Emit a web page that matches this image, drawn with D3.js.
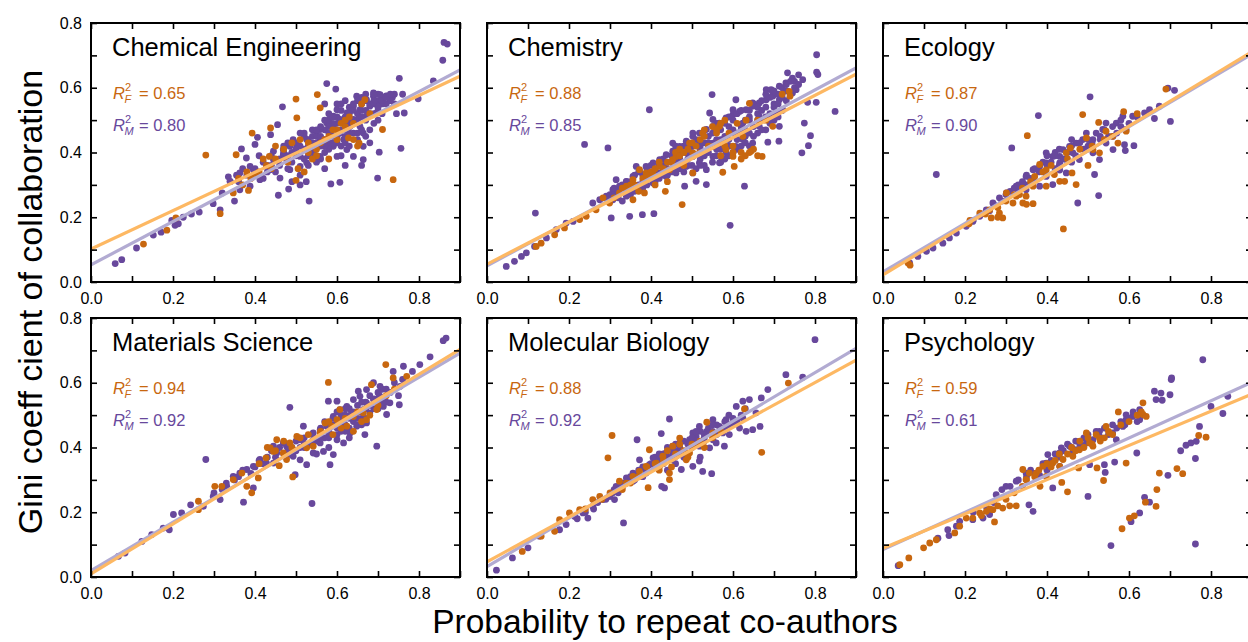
<!DOCTYPE html>
<html>
<head>
<meta charset="utf-8">
<script src="https://cdn.jsdelivr.net/npm/d3@7"></script>
<style>
body { margin: 0; background: #fff; }
text { font-family: "Liberation Sans", Arial, Helvetica, sans-serif; }
</style>
</head>
<body>
<svg id="chart" width="1248" height="642"></svg>
<script>
// panel names and fit summaries
var fields = ["Chemical Engineering", "Chemistry", "Ecology", "Materials Science", "Molecular Biology", "Psychology"];
var r2F = ["0.65", "0.88", "0.87", "0.94", "0.88", "0.59"];
var r2M = ["0.80", "0.85", "0.90", "0.92", "0.92", "0.61"];
// [intercept, slope] of the fitted lines
var fitF = [[0.102, 0.593], [0.055, 0.652], [0.022, 0.766], [0.010, 0.770], [0.047, 0.692], [0.089, 0.529]];
var fitM = [[0.053, 0.669], [0.050, 0.679], [0.031, 0.748], [0.020, 0.746], [0.032, 0.749], [0.085, 0.574]];
var xTicks = [0, 0.1, 0.2, 0.3, 0.4, 0.5, 0.6, 0.7, 0.8, 0.9];
var yTicks = [0, 0.1, 0.2, 0.3, 0.4, 0.5, 0.6, 0.7, 0.8];

// points: [probability to repeat co-authors, gini coefficient]
var chemEngM = [[0.059,0.057],[0.075,0.069],[0.111,0.105],[0.152,0.145],[0.171,0.154],[0.197,0.19],[0.205,0.175],[0.213,0.18],[0.225,0.2],[0.245,0.21],[0.264,0.216],[0.298,0.242],[0.315,0.223],[0.32,0.275],[0.35,0.25],[0.34,0.31],[0.335,0.325],[0.355,0.33],[0.367,0.411],[0.379,0.383],[0.40,0.425],[0.406,0.447],[0.438,0.455],[0.455,0.486],[0.467,0.541],[0.457,0.268],[0.482,0.287],[0.532,0.25],[0.51,0.30],[0.525,0.31],[0.575,0.613],[0.597,0.596],[0.585,0.303],[0.607,0.308],[0.699,0.321],[0.703,0.401],[0.756,0.413],[0.752,0.629],[0.764,0.522],[0.745,0.52],[0.835,0.621],[0.798,0.566],[0.858,0.685],[0.861,0.74],[0.869,0.735],[0.76,0.58],[0.735,0.57],[0.72,0.575],[0.74,0.55],
  [0.339,0.311],[0.363,0.337],[0.396,0.347],[0.428,0.357],[0.445,0.378],[0.469,0.393],[0.485,0.419],[0.493,0.44],[0.51,0.388],[0.526,0.368],[0.542,0.399],[0.559,0.44],[0.559,0.471],[0.575,0.491],[0.591,0.481],[0.607,0.502],[0.624,0.522],[0.64,0.543],[0.656,0.532],[0.672,0.563],[0.689,0.574],[0.705,0.579],[0.721,0.574],[0.672,0.512],[0.656,0.481],[0.664,0.419],[0.664,0.378],[0.64,0.388],[0.616,0.44],[0.591,0.419],[0.6,0.388],[0.559,0.388],[0.51,0.357],[0.485,0.347],[0.461,0.321],[0.437,0.347],[0.412,0.316],[0.388,0.296],[0.363,0.285],[0.388,0.357],[0.469,0.409],[0.526,0.44],[0.55,0.46],[0.583,0.46],[0.607,0.46],[0.632,0.481],[0.64,0.502],[0.591,0.512],[0.567,0.43],[0.542,0.419],[0.68,0.543],[0.697,0.522],[0.713,0.563],[0.729,0.574],[0.632,0.532],[0.648,0.574],[0.689,0.584],[0.624,0.409],[0.68,0.43],[0.502,0.419],[0.445,0.404],[0.477,0.378],[0.664,0.46],[0.6,0.532],
  [0.5,0.43],[0.52,0.45],[0.54,0.45],[0.57,0.47],[0.58,0.5],[0.6,0.49],[0.62,0.49],[0.63,0.5],[0.65,0.52],[0.66,0.55],[0.69,0.55],[0.7,0.56],[0.71,0.55],[0.62,0.47],[0.58,0.43],[0.55,0.43],[0.53,0.42],[0.49,0.40],[0.47,0.42],[0.57,0.40],[0.61,0.42],[0.65,0.44],[0.67,0.50],[0.70,0.58],[0.74,0.58],[0.69,0.49],[0.62,0.36],[0.66,0.36],[0.57,0.35],[0.49,0.31],
  [0.38,0.33],[0.40,0.35],[0.42,0.37],[0.43,0.34],[0.44,0.39],[0.46,0.36],[0.47,0.40],[0.48,0.43],[0.49,0.37],[0.50,0.39],[0.51,0.42],[0.52,0.38],[0.52,0.46],[0.53,0.44],[0.54,0.41],[0.54,0.47],[0.55,0.45],[0.56,0.42],[0.56,0.48],[0.57,0.44],[0.57,0.50],[0.58,0.46],[0.58,0.52],[0.59,0.45],[0.59,0.49],[0.60,0.43],[0.60,0.51],[0.61,0.47],[0.61,0.53],[0.62,0.45],[0.62,0.51],[0.63,0.48],[0.63,0.54],[0.64,0.46],[0.64,0.53],[0.65,0.50],[0.65,0.56],[0.66,0.47],[0.66,0.53],[0.67,0.45],[0.67,0.56],[0.68,0.52],[0.68,0.47],[0.69,0.56],[0.70,0.53],[0.70,0.50],[0.71,0.57],[0.72,0.55],[0.73,0.56],[0.71,0.52],[0.55,0.37],[0.53,0.36],[0.58,0.41],[0.63,0.42],[0.61,0.39],[0.45,0.34],[0.48,0.35],[0.51,0.33],[0.42,0.32],[0.36,0.31],[0.37,0.35],[0.41,0.39],[0.44,0.36],[0.57,0.55],[0.60,0.55],[0.62,0.56],[0.67,0.58],
  [0.50,0.41],[0.51,0.46],[0.53,0.39],[0.54,0.43],[0.55,0.47],[0.56,0.45],[0.57,0.42],[0.58,0.48],[0.59,0.51],[0.59,0.43],[0.60,0.45],[0.61,0.50],[0.61,0.55],[0.62,0.43],[0.63,0.52],[0.64,0.50],[0.64,0.55],[0.65,0.46],[0.66,0.51],[0.66,0.57],[0.67,0.53],[0.68,0.55],[0.69,0.52],[0.69,0.58],[0.70,0.54],[0.71,0.56],[0.72,0.57],[0.73,0.58],[0.63,0.46],[0.56,0.38],[0.52,0.41],[0.48,0.39],[0.46,0.38],[0.43,0.36],[0.40,0.33]];
var chemEngF = [[0.128,0.117],[0.185,0.16],[0.207,0.198],[0.28,0.392],[0.315,0.211],[0.354,0.393],[0.384,0.283],[0.393,0.46],[0.438,0.476],[0.5,0.565],[0.502,0.507],[0.5,0.314],[0.552,0.579],[0.559,0.538],[0.668,0.563],[0.711,0.471],[0.737,0.316],[0.654,0.429],[0.628,0.445],[0.347,0.275],[0.37,0.30],[0.40,0.33],[0.428,0.36],[0.435,0.388],[0.45,0.38],[0.48,0.37],[0.505,0.35],[0.52,0.34],[0.53,0.40],[0.55,0.39],[0.56,0.43],[0.58,0.45],[0.6,0.47],[0.61,0.49],[0.62,0.50],[0.63,0.51],[0.66,0.55],[0.58,0.38],[0.45,0.42],[0.64,0.44],[0.65,0.42],[0.55,0.41],[0.41,0.34],[0.38,0.34],
  [0.42,0.38],[0.47,0.41],[0.49,0.43],[0.51,0.44],[0.53,0.43],[0.57,0.44],[0.59,0.47],[0.62,0.48],[0.64,0.49],[0.54,0.38],[0.44,0.35],[0.39,0.32],[0.36,0.32],[0.68,0.52],[0.60,0.44]];

var chemistryM = [[0.047,0.048],[0.067,0.064],[0.084,0.079],[0.096,0.09],[0.116,0.11],[0.118,0.213],[0.145,0.136],[0.169,0.162],[0.193,0.182],[0.21,0.187],[0.238,0.425],[0.295,0.414],[0.303,0.198],[0.348,0.203],[0.379,0.208],[0.407,0.211],[0.396,0.532],[0.543,0.522],[0.549,0.579],[0.593,0.175],[0.628,0.296],[0.804,0.702],[0.804,0.648],[0.807,0.641],[0.849,0.527],[0.803,0.555],[0.782,0.555],[0.789,0.452],[0.784,0.421],[0.768,0.399],[0.774,0.491],[0.733,0.646],[0.745,0.63],[0.77,0.625],[0.754,0.594],[0.713,0.605],[0.681,0.594],[0.693,0.594],[0.712,0.435],[0.685,0.432],[0.648,0.429],[0.535,0.301],[0.51,0.311],[0.482,0.296],
  [0.258,0.244],[0.275,0.254],[0.291,0.265],[0.307,0.285],[0.323,0.296],[0.34,0.311],[0.356,0.326],[0.372,0.342],[0.388,0.357],[0.405,0.368],[0.421,0.378],[0.437,0.393],[0.453,0.404],[0.47,0.419],[0.486,0.435],[0.502,0.45],[0.518,0.46],[0.535,0.471],[0.551,0.481],[0.567,0.491],[0.583,0.507],[0.6,0.517],[0.616,0.527],[0.632,0.532],[0.648,0.543],[0.664,0.553],[0.681,0.563],[0.697,0.574],[0.713,0.563],
  [0.307,0.254],[0.34,0.265],[0.372,0.285],[0.405,0.306],[0.437,0.326],[0.461,0.337],[0.486,0.357],[0.502,0.337],[0.518,0.368],[0.551,0.388],[0.567,0.368],[0.583,0.399],[0.607,0.419],[0.624,0.44],[0.64,0.46],[0.664,0.481],[0.689,0.502],[0.705,0.522],[0.721,0.532],[0.713,0.481],[0.6,0.46],[0.551,0.429],[0.502,0.388],[0.453,0.368],[0.421,0.337],[0.388,0.316],[0.535,0.347],[0.664,0.512],[0.624,0.491],[0.486,0.399],
  [0.315,0.316],[0.364,0.357],[0.453,0.429],[0.502,0.46],[0.551,0.502],[0.6,0.532],[0.648,0.553],[0.697,0.584],[0.729,0.615],[0.745,0.584],[0.607,0.563],[0.58,0.44],[0.62,0.47],[0.66,0.50],[0.70,0.54],[0.52,0.42],[0.47,0.38],[0.43,0.35],[0.59,0.48],[0.64,0.51],
  [0.30,0.25],[0.30,0.27],[0.31,0.29],[0.32,0.26],[0.32,0.28],[0.33,0.30],[0.33,0.25],[0.35,0.27],[0.35,0.29],[0.35,0.31],[0.36,0.28],[0.36,0.33],[0.38,0.29],[0.38,0.31],[0.38,0.33],[0.39,0.35],[0.39,0.30],[0.41,0.31],[0.41,0.33],[0.41,0.35],[0.42,0.36],[0.42,0.32],[0.43,0.38],[0.44,0.33],[0.44,0.35],[0.44,0.37],[0.45,0.39],[0.45,0.34],[0.46,0.36],[0.47,0.35],[0.47,0.37],[0.47,0.40],[0.48,0.42],[0.48,0.34],[0.49,0.38],[0.50,0.36],[0.50,0.40],[0.50,0.42],[0.51,0.44],[0.51,0.35],[0.52,0.38],[0.52,0.41],[0.53,0.36],[0.53,0.43],[0.54,0.45],[0.54,0.40],[0.55,0.37],[0.55,0.46],[0.55,0.42],[0.56,0.39],[0.56,0.44],[0.57,0.47],[0.57,0.41],[0.58,0.38],[0.58,0.45],[0.58,0.49],[0.59,0.42],[0.60,0.47],[0.60,0.50],[0.60,0.40],[0.61,0.44],[0.61,0.52],[0.62,0.42],[0.62,0.48],[0.63,0.50],[0.63,0.45],[0.64,0.53],[0.64,0.42],[0.65,0.48],[0.65,0.55],[0.66,0.46],[0.66,0.52],[0.67,0.50],[0.67,0.56],[0.68,0.47],[0.68,0.54],[0.69,0.52],[0.69,0.57],[0.70,0.50],[0.70,0.55],[0.71,0.58],[0.72,0.53],[0.72,0.60],[0.73,0.56],[0.74,0.58],[0.74,0.62],[0.75,0.60],[0.76,0.64],
  [0.29,0.26],[0.31,0.27],[0.34,0.28],[0.34,0.31],[0.37,0.30],[0.37,0.34],[0.40,0.32],[0.40,0.36],[0.43,0.33],[0.43,0.36],[0.46,0.34],[0.46,0.38],[0.46,0.42],[0.49,0.36],[0.49,0.40],[0.49,0.43],[0.52,0.36],[0.52,0.43],[0.53,0.39],[0.54,0.43],[0.56,0.41],[0.56,0.49],[0.57,0.37],[0.57,0.44],[0.59,0.39],[0.59,0.44],[0.59,0.51],[0.61,0.41],[0.61,0.46],[0.62,0.53],[0.63,0.43],[0.63,0.47],[0.64,0.50],[0.65,0.45],[0.66,0.54],[0.67,0.47],[0.67,0.53],[0.68,0.51],[0.68,0.58],[0.69,0.49],[0.70,0.59],[0.71,0.51],[0.71,0.55],[0.72,0.57],[0.73,0.59],[0.73,0.61],[0.75,0.62],[0.76,0.61]];
var chemistryF = [[0.12,0.11],[0.132,0.12],[0.165,0.146],[0.189,0.167],[0.226,0.193],[0.242,0.203],[0.266,0.223],[0.283,0.26],[0.299,0.244],[0.356,0.254],[0.356,0.316],[0.384,0.275],[0.405,0.332],[0.435,0.28],[0.445,0.347],[0.476,0.239],[0.461,0.388],[0.494,0.429],[0.502,0.399],[0.526,0.46],[0.551,0.419],[0.567,0.481],[0.575,0.339],[0.583,0.409],[0.603,0.357],[0.624,0.45],[0.632,0.5],[0.64,0.552],[0.644,0.404],[0.671,0.388],[0.697,0.481],[0.737,0.589],[0.739,0.574],[0.388,0.337],[0.421,0.357],[0.453,0.378],[0.502,0.337],[0.518,0.399],[0.6,0.388],[0.567,0.43],[0.323,0.275],[0.34,0.296],[0.372,0.347],
  [0.31,0.26],[0.34,0.29],[0.36,0.30],[0.38,0.32],[0.40,0.34],[0.42,0.37],[0.43,0.35],[0.45,0.37],[0.46,0.40],[0.47,0.39],[0.49,0.41],[0.50,0.43],[0.52,0.44],[0.53,0.47],[0.55,0.48],[0.56,0.46],[0.58,0.50],[0.59,0.46],[0.61,0.49],[0.62,0.40],[0.63,0.39],[0.65,0.41],[0.66,0.50],[0.54,0.42],[0.48,0.36],[0.44,0.31],[0.41,0.30],[0.37,0.28],[0.57,0.39],[0.60,0.42],
  [0.33,0.29],[0.35,0.30],[0.39,0.33],[0.41,0.35],[0.44,0.37],[0.47,0.41],[0.48,0.40],[0.51,0.42],[0.53,0.45],[0.56,0.47],[0.57,0.49],[0.58,0.42],[0.60,0.40],[0.62,0.38],[0.64,0.40],[0.66,0.39],[0.68,0.50],[0.72,0.58]];

var ecologyM = [[0.065,0.059],[0.085,0.079],[0.106,0.095],[0.122,0.105],[0.13,0.332],[0.146,0.12],[0.162,0.136],[0.179,0.151],[0.203,0.172],[0.219,0.187],[0.236,0.203],[0.252,0.223],[0.268,0.244],[0.284,0.26],[0.301,0.275],[0.314,0.414],[0.325,0.296],[0.341,0.306],[0.349,0.326],[0.366,0.347],[0.379,0.514],[0.382,0.357],[0.398,0.368],[0.414,0.388],[0.431,0.388],[0.439,0.409],[0.447,0.378],[0.463,0.399],[0.471,0.429],[0.475,0.244],[0.487,0.44],[0.496,0.409],[0.505,0.572],[0.512,0.44],[0.516,0.332],[0.526,0.267],[0.528,0.378],[0.536,0.471],[0.544,0.491],[0.561,0.45],[0.569,0.491],[0.585,0.512],[0.589,0.424],[0.591,0.406],[0.593,0.471],[0.612,0.421],[0.609,0.512],[0.638,0.522],[0.65,0.532],[0.662,0.505],[0.674,0.543],[0.695,0.599],[0.711,0.592],[0.701,0.496],[0.431,0.346],[0.398,0.326],[0.414,0.301],[0.382,0.296],[0.447,0.337],[0.479,0.378],[0.512,0.399],[0.544,0.429],[0.366,0.316],[0.349,0.285],[0.561,0.409],[0.496,0.46],[0.455,0.419],[0.398,0.399],[0.431,0.368],[0.42,0.40],[0.46,0.44],[0.50,0.42],[0.53,0.45],[0.58,0.48],
  [0.22,0.19],[0.24,0.21],[0.26,0.22],[0.27,0.24],[0.29,0.25],[0.30,0.27],[0.31,0.28],[0.32,0.29],[0.33,0.30],[0.34,0.31],[0.35,0.33],[0.36,0.32],[0.37,0.35],[0.38,0.34],[0.39,0.37],[0.40,0.36],[0.40,0.39],[0.41,0.37],[0.42,0.39],[0.43,0.36],[0.43,0.41],[0.44,0.38],[0.45,0.40],[0.46,0.42],[0.47,0.39],[0.48,0.43],[0.49,0.41],[0.50,0.44],[0.51,0.43],[0.52,0.46],[0.53,0.44],[0.54,0.47],[0.55,0.45],[0.56,0.48],[0.57,0.46],[0.58,0.50],[0.60,0.49],[0.62,0.51],[0.35,0.30],[0.33,0.28],[0.42,0.35],[0.46,0.37]];
var ecologyF = [[0.061,0.059],[0.066,0.052],[0.212,0.19],[0.236,0.213],[0.264,0.198],[0.292,0.198],[0.284,0.213],[0.317,0.244],[0.325,0.265],[0.341,0.244],[0.352,0.452],[0.366,0.242],[0.382,0.363],[0.37,0.326],[0.398,0.296],[0.418,0.332],[0.431,0.311],[0.44,0.164],[0.443,0.311],[0.447,0.399],[0.457,0.414],[0.461,0.337],[0.471,0.301],[0.487,0.517],[0.496,0.445],[0.5,0.36],[0.512,0.409],[0.526,0.493],[0.528,0.399],[0.544,0.466],[0.573,0.429],[0.587,0.526],[0.593,0.466],[0.69,0.596],[0.26,0.223],[0.301,0.275],[0.333,0.27],[0.349,0.265],[0.366,0.296],[0.398,0.346],
  [0.21,0.18],[0.25,0.21],[0.28,0.23],[0.30,0.25],[0.32,0.27],[0.34,0.29],[0.36,0.31],[0.39,0.34],[0.41,0.36],[0.45,0.38],[0.48,0.41],[0.51,0.42],[0.54,0.44],[0.56,0.45],[0.62,0.52],[0.28,0.20],[0.35,0.24]];

var materialsM = [[0.067,0.064],[0.083,0.074],[0.124,0.11],[0.148,0.131],[0.176,0.151],[0.191,0.146],[0.201,0.193],[0.221,0.198],[0.243,0.223],[0.274,0.218],[0.28,0.363],[0.298,0.249],[0.315,0.239],[0.331,0.28],[0.363,0.321],[0.372,0.231],[0.396,0.275],[0.396,0.342],[0.428,0.352],[0.445,0.404],[0.469,0.414],[0.485,0.524],[0.493,0.373],[0.498,0.316],[0.518,0.466],[0.526,0.347],[0.539,0.227],[0.546,0.424],[0.559,0.455],[0.567,0.388],[0.579,0.543],[0.583,0.347],[0.591,0.378],[0.6,0.543],[0.591,0.496],[0.607,0.517],[0.624,0.527],[0.632,0.445],[0.64,0.548],[0.652,0.574],[0.664,0.517],[0.668,0.44],[0.672,0.579],[0.689,0.548],[0.697,0.404],[0.701,0.568],[0.713,0.527],[0.721,0.502],[0.729,0.538],[0.737,0.635],[0.752,0.532],[0.754,0.589],[0.762,0.651],[0.784,0.635],[0.802,0.656],[0.827,0.68],[0.859,0.73],[0.866,0.738],
  [0.347,0.311],[0.38,0.332],[0.412,0.363],[0.453,0.383],[0.477,0.404],[0.51,0.424],[0.542,0.445],[0.575,0.466],[0.607,0.486],[0.64,0.507],[0.672,0.538],[0.705,0.558],[0.559,0.414],[0.6,0.424],[0.616,0.414],[0.648,0.466],[0.672,0.476],[0.68,0.507],[0.542,0.383],[0.51,0.362],[0.477,0.373],[0.445,0.352],[0.689,0.6],[0.705,0.589],[0.656,0.558],[0.632,0.5],[0.6,0.46],[0.58,0.44],[0.62,0.47],[0.66,0.49],[0.52,0.40],[0.49,0.40],
  [0.30,0.26],[0.32,0.27],[0.33,0.29],[0.35,0.30],[0.36,0.31],[0.37,0.33],[0.39,0.32],[0.40,0.34],[0.41,0.36],[0.42,0.35],[0.43,0.37],[0.44,0.39],[0.45,0.37],[0.46,0.40],[0.47,0.38],[0.48,0.41],[0.49,0.39],[0.50,0.42],[0.51,0.40],[0.52,0.43],[0.53,0.41],[0.54,0.44],[0.55,0.42],[0.56,0.46],[0.57,0.43],[0.57,0.48],[0.58,0.45],[0.59,0.49],[0.60,0.44],[0.60,0.51],[0.61,0.47],[0.62,0.50],[0.62,0.45],[0.63,0.52],[0.64,0.48],[0.65,0.53],[0.65,0.47],[0.66,0.51],[0.67,0.54],[0.67,0.49],[0.68,0.56],[0.69,0.52],[0.70,0.55],[0.71,0.58],[0.72,0.54],[0.73,0.57],[0.74,0.60],[0.75,0.56],[0.76,0.61],[0.55,0.38],[0.58,0.40],[0.63,0.43],
  [0.58,0.43],[0.59,0.47],[0.60,0.48],[0.61,0.45],[0.61,0.50],[0.62,0.52],[0.63,0.46],[0.63,0.49],[0.64,0.51],[0.65,0.49],[0.66,0.54],[0.66,0.47],[0.67,0.52],[0.68,0.53],[0.69,0.55],[0.70,0.52],[0.70,0.57],[0.71,0.54],[0.72,0.58],[0.56,0.43],[0.54,0.42],[0.52,0.41],[0.50,0.39],[0.48,0.39]];
var materialsF = [[0.262,0.234],[0.262,0.208],[0.302,0.28],[0.319,0.28],[0.347,0.301],[0.368,0.321],[0.38,0.28],[0.392,0.26],[0.408,0.306],[0.41,0.35],[0.427,0.368],[0.437,0.399],[0.445,0.388],[0.459,0.344],[0.469,0.383],[0.477,0.363],[0.492,0.309],[0.502,0.434],[0.526,0.399],[0.542,0.404],[0.559,0.445],[0.571,0.476],[0.579,0.601],[0.587,0.466],[0.6,0.486],[0.624,0.466],[0.64,0.496],[0.664,0.507],[0.672,0.486],[0.684,0.594],[0.697,0.517],[0.719,0.656],[0.737,0.615],[0.77,0.62],[0.453,0.424],[0.485,0.414],[0.607,0.517],
  [0.43,0.40],[0.45,0.39],[0.47,0.42],[0.49,0.40],[0.53,0.44],[0.56,0.45],[0.58,0.48],[0.59,0.44],[0.61,0.46],[0.62,0.49],[0.64,0.45],[0.66,0.48],[0.68,0.50],[0.70,0.53],[0.72,0.56],[0.74,0.58],[0.65,0.51],[0.51,0.43]];

var molbioM = [[0.023,0.021],[0.062,0.059],[0.1,0.09],[0.128,0.126],[0.177,0.146],[0.193,0.162],[0.214,0.187],[0.234,0.198],[0.246,0.182],[0.258,0.218],[0.283,0.239],[0.299,0.249],[0.311,0.239],[0.315,0.28],[0.333,0.167],[0.34,0.306],[0.356,0.321],[0.366,0.424],[0.38,0.337],[0.396,0.347],[0.405,0.368],[0.421,0.373],[0.426,0.28],[0.425,0.443],[0.433,0.275],[0.437,0.383],[0.445,0.488],[0.461,0.388],[0.47,0.414],[0.474,0.332],[0.494,0.424],[0.502,0.342],[0.51,0.434],[0.518,0.358],[0.526,0.326],[0.535,0.449],[0.543,0.399],[0.548,0.319],[0.559,0.414],[0.567,0.465],[0.579,0.404],[0.583,0.486],[0.591,0.44],[0.608,0.527],[0.616,0.46],[0.624,0.543],[0.632,0.45],[0.64,0.548],[0.648,0.455],[0.666,0.465],[0.669,0.553],[0.685,0.579],[0.729,0.625],[0.77,0.617],[0.8,0.733],
  [0.307,0.26],[0.331,0.28],[0.356,0.296],[0.388,0.321],[0.421,0.342],[0.453,0.362],[0.486,0.383],[0.518,0.404],[0.551,0.424],[0.575,0.445],[0.6,0.476],[0.551,0.486],[0.502,0.445],[0.453,0.404],[0.372,0.362],[0.518,0.465],[0.624,0.491],[0.656,0.507],[0.47,0.39],[0.53,0.43],
  [0.22,0.18],[0.24,0.20],[0.26,0.21],[0.27,0.23],[0.29,0.24],[0.30,0.25],[0.31,0.27],[0.32,0.26],[0.33,0.28],[0.34,0.29],[0.35,0.31],[0.36,0.30],[0.37,0.32],[0.38,0.31],[0.38,0.34],[0.39,0.33],[0.40,0.35],[0.41,0.34],[0.41,0.37],[0.42,0.36],[0.43,0.38],[0.44,0.37],[0.44,0.40],[0.45,0.39],[0.46,0.41],[0.47,0.40],[0.48,0.42],[0.49,0.41],[0.50,0.43],[0.51,0.42],[0.52,0.45],[0.53,0.44],[0.54,0.46],[0.55,0.45],[0.56,0.47],[0.57,0.46],[0.58,0.48],[0.59,0.47],[0.60,0.49],[0.62,0.50],[0.46,0.35],[0.44,0.33],[0.48,0.37],[0.52,0.37],
  [0.42,0.38],[0.43,0.35],[0.45,0.37],[0.47,0.38],[0.50,0.40],[0.51,0.45],[0.53,0.42],[0.55,0.47],[0.56,0.44],[0.58,0.46],[0.59,0.50],[0.61,0.48],[0.63,0.52],[0.37,0.33],[0.35,0.30],[0.33,0.29]];
var molbioF = [[0.086,0.079],[0.132,0.126],[0.165,0.141],[0.177,0.177],[0.201,0.198],[0.226,0.208],[0.258,0.239],[0.275,0.249],[0.295,0.368],[0.305,0.437],[0.323,0.296],[0.34,0.29],[0.372,0.326],[0.393,0.276],[0.396,0.393],[0.413,0.352],[0.429,0.373],[0.445,0.321],[0.445,0.301],[0.453,0.404],[0.47,0.429],[0.486,0.362],[0.502,0.404],[0.518,0.414],[0.536,0.478],[0.551,0.445],[0.628,0.519],[0.67,0.385],[0.735,0.599],[0.356,0.311],[0.388,0.342],[0.494,0.383],[0.461,0.373],
  [0.24,0.21],[0.28,0.24],[0.30,0.26],[0.33,0.27],[0.35,0.29],[0.37,0.31],[0.39,0.34],[0.41,0.35],[0.43,0.36],[0.44,0.39],[0.46,0.38],[0.47,0.41],[0.48,0.39],[0.50,0.41],[0.52,0.42],[0.53,0.40],[0.55,0.43],[0.57,0.45],[0.45,0.34],[0.49,0.37],[0.42,0.33]];

var psychM = [[0.037,0.035],[0.134,0.12],[0.158,0.146],[0.161,0.128],[0.187,0.172],[0.219,0.177],[0.244,0.182],[0.26,0.193],[0.276,0.254],[0.3,0.28],[0.325,0.296],[0.356,0.223],[0.366,0.203],[0.382,0.314],[0.402,0.378],[0.414,0.275],[0.431,0.342],[0.435,0.399],[0.455,0.404],[0.471,0.393],[0.5,0.249],[0.504,0.347],[0.512,0.424],[0.528,0.45],[0.54,0.347],[0.542,0.323],[0.556,0.097],[0.565,0.355],[0.569,0.424],[0.585,0.465],[0.593,0.501],[0.605,0.171],[0.609,0.496],[0.619,0.383],[0.626,0.486],[0.626,0.198],[0.638,0.246],[0.65,0.231],[0.662,0.574],[0.666,0.548],[0.681,0.546],[0.678,0.568],[0.695,0.314],[0.7,0.563],[0.703,0.61],[0.704,0.615],[0.726,0.39],[0.739,0.407],[0.751,0.414],[0.762,0.102],[0.762,0.366],[0.764,0.419],[0.772,0.465],[0.78,0.671],[0.8,0.527],[0.829,0.505],[0.841,0.558],[0.431,0.383],[0.463,0.383],[0.496,0.414],[0.528,0.434],[0.56,0.445],[0.593,0.486],[0.626,0.517],[0.349,0.321],[0.398,0.352],[0.179,0.157],
  [0.29,0.27],[0.31,0.28],[0.33,0.30],[0.35,0.31],[0.36,0.33],[0.37,0.32],[0.39,0.35],[0.40,0.33],[0.41,0.36],[0.42,0.38],[0.43,0.37],[0.44,0.39],[0.45,0.41],[0.46,0.40],[0.47,0.42],[0.48,0.41],[0.49,0.43],[0.50,0.44],[0.51,0.42],[0.52,0.45],[0.53,0.43],[0.54,0.46],[0.55,0.44],[0.56,0.47],[0.57,0.46],[0.58,0.48],[0.59,0.47],[0.60,0.49],[0.61,0.51],[0.62,0.48],[0.63,0.50],[0.22,0.20],[0.25,0.22],[0.27,0.23]];
var psychF = [[0.041,0.038],[0.063,0.059],[0.099,0.09],[0.114,0.105],[0.13,0.115],[0.175,0.136],[0.187,0.157],[0.203,0.182],[0.219,0.182],[0.236,0.198],[0.252,0.203],[0.268,0.208],[0.272,0.17],[0.292,0.213],[0.309,0.22],[0.325,0.22],[0.341,0.332],[0.357,0.321],[0.374,0.321],[0.383,0.28],[0.39,0.342],[0.414,0.352],[0.436,0.292],[0.439,0.363],[0.45,0.263],[0.463,0.373],[0.477,0.337],[0.479,0.393],[0.496,0.445],[0.504,0.414],[0.522,0.337],[0.528,0.429],[0.538,0.298],[0.544,0.465],[0.552,0.445],[0.574,0.51],[0.583,0.149],[0.593,0.352],[0.601,0.182],[0.613,0.189],[0.634,0.538],[0.634,0.502],[0.64,0.231],[0.666,0.218],[0.668,0.27],[0.674,0.321],[0.717,0.335],[0.731,0.319],[0.77,0.437],[0.788,0.432],[0.642,0.496],[0.398,0.311],[0.349,0.301],[0.431,0.342],[0.512,0.404],
  [0.28,0.22],[0.30,0.24],[0.32,0.26],[0.34,0.28],[0.35,0.30],[0.37,0.31],[0.38,0.33],[0.40,0.35],[0.41,0.34],[0.42,0.36],[0.43,0.38],[0.45,0.38],[0.46,0.40],[0.47,0.39],[0.48,0.42],[0.49,0.40],[0.50,0.43],[0.51,0.41],[0.52,0.44],[0.53,0.42],[0.54,0.43],[0.55,0.45],[0.56,0.44],[0.58,0.47],[0.60,0.48],[0.62,0.50],[0.63,0.51],[0.24,0.19],[0.26,0.21]];

var pointsM = [chemEngM, chemistryM, ecologyM, materialsM, molbioM, psychM];
var pointsF = [chemEngF, chemistryF, ecologyF, materialsF, molbioF, psychF];

var colorF = "#c8670f", colorM = "#68489c", lineF = "#fdb863", lineM = "#b2abd2";

var svg = d3.select("#chart");
var colLeft = [91, 487, 883], rowTop = [23, 318], pw = 369, ph = 259;

var x = d3.scaleLinear().domain([0, 0.9]).range([0, pw]);
var y = d3.scaleLinear().domain([0, 0.8]).range([ph, 0]);

// label only the even tenths
var fmt = function(d) { return Math.round(d * 10) % 2 === 0 ? d3.format(".1f")(d) : ""; };

function styleAxis(sel) {
    sel.select(".domain").remove();
    sel.selectAll(".tick line").attr("stroke", "#000").attr("stroke-width", 1.6);
    sel.selectAll(".tick text").filter(function() { return this.textContent === ""; }).remove();
    sel.selectAll(".tick text").attr("fill", "#000")
        .style("font-size", "16px").style("font-family", "'Liberation Sans', Arial, sans-serif");
}

fields.forEach(function(name, i) {
    var col = i % 3, row = Math.floor(i / 3);
    var g = svg.append("g").attr("transform", "translate(" + colLeft[col] + "," + rowTop[row] + ")");

    g.append("clipPath").attr("id", "clip" + i)
        .append("rect").attr("width", pw).attr("height", ph);
    var plot = g.append("g").attr("clip-path", "url(#clip" + i + ")");

    plot.selectAll("circle.m").data(pointsM[i]).enter().append("circle")
        .attr("class", "m")
        .attr("cx", function(d) { return x(d[0]); })
        .attr("cy", function(d) { return y(d[1]); })
        .attr("r", 3.4)
        .attr("fill", colorM);

    plot.selectAll("circle.f").data(pointsF[i]).enter().append("circle")
        .attr("class", "f")
        .attr("cx", function(d) { return x(d[0]); })
        .attr("cy", function(d) { return y(d[1]); })
        .attr("r", 3.4)
        .attr("fill", colorF);

    [[fitM[i], lineM], [fitF[i], lineF]].forEach(function(f) {
        plot.append("line")
            .attr("x1", x(0)).attr("y1", y(f[0][0]))
            .attr("x2", x(0.9)).attr("y2", y(f[0][0] + f[0][1] * 0.9))
            .attr("stroke", f[1]).attr("stroke-width", 3.2);
    });

    g.append("g").attr("transform", "translate(0," + ph + ")")
        .call(d3.axisBottom(x).tickValues(xTicks).tickSize(-6).tickPadding(11).tickFormat(fmt))
        .call(styleAxis);
    g.append("g")
        .call(d3.axisTop(x).tickValues(xTicks).tickSize(-6).tickFormat(""))
        .call(styleAxis);
    g.append("g")
        .call(d3.axisLeft(y).tickValues(yTicks).tickSize(-6).tickPadding(9).tickFormat(col === 0 ? fmt : ""))
        .call(styleAxis);
    g.append("g").attr("transform", "translate(" + pw + ",0)")
        .call(d3.axisRight(y).tickValues(yTicks).tickSize(-6).tickFormat(""))
        .call(styleAxis);

    g.append("rect").attr("width", pw).attr("height", ph)
        .attr("fill", "none").attr("stroke", "#000").attr("stroke-width", 2);

    g.append("text").attr("x", 21).attr("y", 33)
        .style("font-size", "25.5px").attr("fill", "#000").text(name);

    [["F", r2F[i], colorF, 76], ["M", r2M[i], colorM, 108]].forEach(function(r) {
        var t = g.append("g").attr("transform", "translate(22," + r[3] + ")").attr("fill", r[2]);
        t.append("text").style("font-size", "16.5px").style("font-style", "italic").text("R");
        t.append("text").attr("x", 12).attr("y", -8).style("font-size", "11px").text("2");
        t.append("text").attr("x", 11.5).attr("y", 4).style("font-size", "11px").style("font-style", "italic").text(r[0]);
        t.append("text").attr("x", 26).style("font-size", "16.5px").text("= " + r[1]);
    });
});

svg.append("text")
    .attr("x", 665).attr("y", 632.5)
    .attr("text-anchor", "middle")
    .style("font-size", "33.5px")
    .text("Probability to repeat co-authors");

svg.append("text")
    .attr("transform", "translate(42,302) rotate(-90)")
    .attr("text-anchor", "middle")
    .style("font-size", "34px")
    .text("Gini coeff cient of collaboration");
</script>
</body>
</html>
